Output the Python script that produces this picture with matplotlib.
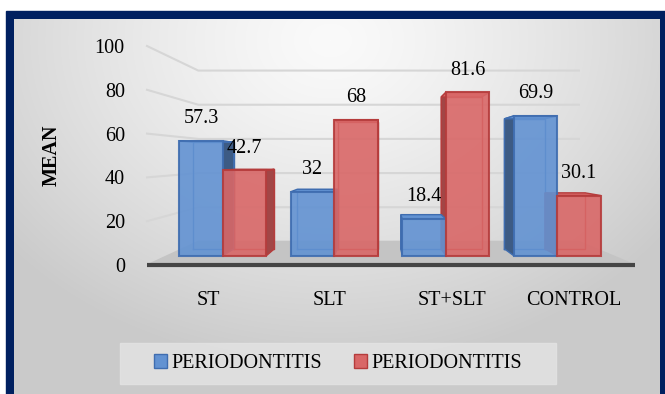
import numpy as np
import matplotlib.pyplot as plt
from matplotlib.patches import Polygon, Rectangle, Patch

# ===== data =====
categories = ['ST', 'SLT', 'ST+SLT', 'CONTROL']
series_names = ['PERIODONTITIS', 'PERIODONTITIS']
blue_vals = [57.3, 32, 18.4, 69.9]
red_vals = [42.7, 68, 81.6, 30.1]
yticks = [0, 20, 40, 60, 80, 100]

plt.rcParams['font.family'] = ['Liberation Serif', 'DejaVu Serif']
FS = 14.5

W, H = 665, 394
fig = plt.figure(figsize=(W / 100, H / 100), dpi=100)

# ===== background: navy frame + soft grey gradient =====
bg = fig.add_axes([0, 0, 1, 1], zorder=-2)
bg.set_axis_off()
bg.add_patch(Rectangle((6, 11), 680, 400, color='#002060', zorder=0))
yy, xx = np.mgrid[19:394, 14:660]
r = np.hypot((xx - 330) / 420, (yy - 40) / 330)
g = (250 - 48 * np.clip(r, 0, 1) ** 1.3) / 255
bg.imshow(np.dstack([g, g, g]), extent=(14, 660, 394, 19), aspect='auto', zorder=1)
bg.add_patch(Rectangle((120, 343), 436, 41, color='#e4e4e4', alpha=0.8, zorder=2))
bg.set_xlim(0, W)
bg.set_ylim(H, 0)

# ===== main axes (front plane of the floor) =====
ax = fig.add_axes([147 / W, 1 - 265 / H, 488 / W, 219 / H])
ax.set_xlim(-0.5, 3.5)
ax.set_ylim(0, 100)
ax.patch.set_alpha(0)
for s in ax.spines.values():
    s.set_visible(False)

# perspective helpers
XV, YV = 1.41, 49.0      # vanishing point
FW = 0.78                # back wall depth
FB, FB2 = 0.914, 0.85    # bar front / back depth
BW = 0.39                # bar width


def proj(x, y, f):
    return (XV + f * (x - XV), YV + f * (y - YV))


# floor
ax.add_patch(Polygon([proj(-0.5, 0, 1), proj(3.5, 0, 1), proj(3.5, 0, FW), proj(-0.5, 0, FW)],
                     closed=True, color='#c4c4c4', zorder=1, clip_on=False))
ax.plot([-0.5, 3.5], [0, 0], color='#454545', lw=3, solid_capstyle='butt', zorder=1.5, clip_on=False)

# gridlines on side wall + back wall
for v in yticks[1:]:
    pts = np.array([proj(-0.5, v, 1), proj(-0.5, v, FW), proj(3.5, v, FW)])
    ax.plot(pts[:, 0], pts[:, 1], color='#d6d6d6', lw=1.5, zorder=0.5, clip_on=False)

blue_face, blue_edge, blue_side = '#6292d2', '#3f6db0', '#3d5b84'
red_face, red_edge, red_side = '#d96767', '#b53c3c', '#a24646'

bars = []
for i in range(len(categories)):
    bars.append((i - BW, i, blue_vals[i], blue_face, blue_edge, blue_side))
    bars.append((i, i + BW, red_vals[i], red_face, red_edge, red_side))

# back parts first
for x0, x1, v, face, edge, side in bars:
    back = np.array([proj(x0, 0, FB2), proj(x1, 0, FB2), proj(x1, v, FB2), proj(x0, v, FB2), proj(x0, 0, FB2)])
    ax.plot(back[:, 0], back[:, 1], color=edge, lw=1, zorder=2, clip_on=False)
    xs = x1 if (x0 + x1) / 2 < XV else x0
    ax.add_patch(Polygon([proj(xs, 0, FB), proj(xs, 0, FB2), proj(xs, v, FB2), proj(xs, v, FB)],
                         closed=True, facecolor=side, edgecolor=edge, lw=1, zorder=2.2, clip_on=False))
    ax.add_patch(Polygon([proj(x0, v, FB), proj(x1, v, FB), proj(x1, v, FB2), proj(x0, v, FB2)],
                         closed=True, facecolor=face, edgecolor=edge, lw=1, zorder=2.3, clip_on=False))

# front faces + value labels
for x0, x1, v, face, edge, side in bars:
    ax.add_patch(Polygon([proj(x0, 0, FB), proj(x1, 0, FB), proj(x1, v, FB), proj(x0, v, FB)],
                         closed=True, facecolor=face, edgecolor=edge, lw=1.5, alpha=0.9,
                         zorder=3, clip_on=False))
    ax.annotate(f'{v:g}', xy=proj((x0 + x1) / 2, v, FB), xytext=(0, 16), textcoords='offset points',
                ha='center', va='center', fontsize=FS, zorder=4)

ax.set_yticks(yticks)
ax.set_xticks(range(len(categories)), categories)
ax.tick_params(axis='y', length=0, pad=16, labelsize=FS)
ax.tick_params(axis='x', length=0, pad=19, labelsize=FS)
ax.set_ylabel('MEAN', fontsize=FS, fontweight='bold')
ax.yaxis.set_label_coords(-0.174, 0.50)

handles = [Patch(facecolor=blue_face, edgecolor=blue_edge), Patch(facecolor=red_face, edgecolor=red_edge)]
fig.legend(handles, series_names, loc='center', bbox_to_anchor=(338 / W, 1 - 363.5 / H), ncol=2,
           frameon=False, fontsize=FS, handlelength=0.65, handleheight=0.65,
           handletextpad=0.2, columnspacing=1.6)

fig.savefig('out.png', dpi=100)
